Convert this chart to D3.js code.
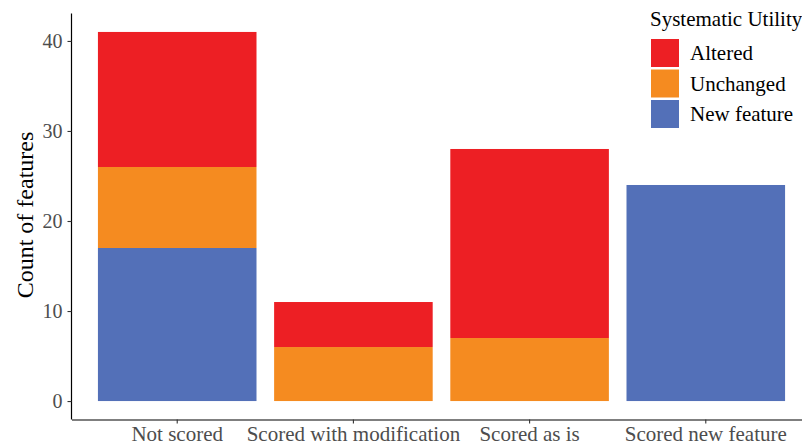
<!DOCTYPE html>
<html>
<head>
<meta charset="utf-8">
<script src="https://cdn.jsdelivr.net/npm/d3@7"></script>
<style>
  body { margin: 0; background: #fff; }
  svg { display: block; font-family: 'Liberation Serif', 'Times New Roman', serif; }
  .tick text { font-family: 'Liberation Serif', 'Times New Roman', serif; }
</style>
</head>
<body>
<div id="container"></div>
<script>
const w = 802
const h = 444

const categories = ['Not scored', 'Scored with modification', 'Scored as is', 'Scored new feature']
const seriesNames = ['New feature', 'Unchanged', 'Altered']
const newFeature = [17, 0, 0, 24]
const unchanged = [9, 6, 7, 0]
const altered = [15, 5, 21, 0]
const yTicks = [0, 10, 20, 30, 40]
const legendOrder = ['Altered', 'Unchanged', 'New feature']
const colors = { 'Altered': '#ED1F24', 'Unchanged': '#F58B20', 'New feature': '#5370B8' }

const rows = categories.map((c, i) => ({
  cat: c,
  'New feature': newFeature[i],
  'Unchanged': unchanged[i],
  'Altered': altered[i]
}))

const stacked = d3.stack().keys(seriesNames)(rows)
const maxY = d3.max(rows, d => d['New feature'] + d['Unchanged'] + d['Altered'])
const pad = maxY * 0.05

const x = d3.scaleBand()
  .domain(categories)
  .range([71.5, 811.5])
  .paddingInner(0.1)
  .paddingOuter(0.15)

const y = d3.scaleLinear()
  .domain([-pad, maxY + pad])
  .range([419.5, 13.5])

const svg = d3.select('#container')
  .append('svg')
  .attr('width', w)
  .attr('height', h)

svg.append('g')
  .selectAll('g')
  .data(stacked)
  .enter().append('g')
  .attr('fill', d => colors[d.key])
  .selectAll('rect')
  .data(d => d.filter(p => p[1] > p[0]))
  .enter().append('rect')
  .attr('x', d => x(d.data.cat))
  .attr('width', x.bandwidth())
  .attr('y', d => y(d[1]))
  .attr('height', d => y(d[0]) - y(d[1]))

// y axis
const yAxis = svg.append('g')
  .attr('transform', 'translate(71.5,0)')
  .call(d3.axisLeft(y).tickValues(yTicks).tickSize(4).tickPadding(5))
yAxis.attr('font-family', null).attr('font-size', null)
yAxis.select('.domain').attr('d', 'M0,' + y.range()[1] + 'V' + y.range()[0]).attr('stroke', '#000').attr('stroke-width', 1.2)
yAxis.selectAll('.tick line').attr('stroke', '#333').attr('stroke-width', 1.1)
yAxis.selectAll('.tick text')
  .attr('fill', '#4d4d4d')
  .style('font-size', '20px')

// x axis
const xAxis = svg.append('g')
  .attr('transform', 'translate(0,419.5)')
  .call(d3.axisBottom(x).tickSize(4).tickPadding(3).tickSizeOuter(0))
xAxis.attr('font-family', null).attr('font-size', null)
xAxis.select('.domain').attr('stroke', '#000').attr('stroke-width', 1.2)
xAxis.selectAll('.tick line').attr('stroke', '#333').attr('stroke-width', 1.1)
xAxis.selectAll('.tick text')
  .attr('fill', '#4d4d4d')
  .style('font-size', '21px')

svg.append('text')
  .attr('transform', 'translate(33,215) rotate(-90)')
  .attr('text-anchor', 'middle')
  .style('font-size', '24px')
  .text('Count of features')

// legend
const legend = svg.append('g')
  .attr('transform', 'translate(651,0)')

legend.append('text')
  .attr('x', -1)
  .attr('y', 26)
  .style('font-size', '21px')
  .text('Systematic Utility')

const item = legend.selectAll('g.item')
  .data(legendOrder)
  .enter().append('g')
  .attr('class', 'item')
  .attr('transform', (d, i) => 'translate(0,' + (39 + i * 30.5) + ')')

item.append('rect')
  .attr('width', 28)
  .attr('height', 28)
  .attr('fill', d => colors[d])

item.append('text')
  .attr('x', 39)
  .attr('y', 21)
  .style('font-size', '21px')
  .text(d => d)
</script>
</body>
</html>
